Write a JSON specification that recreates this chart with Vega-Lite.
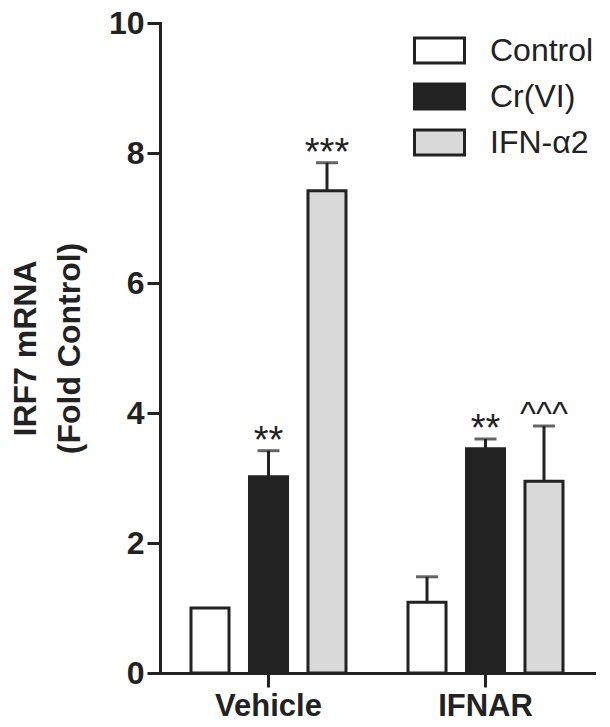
{
  "$schema": "https://vega.github.io/schema/vega-lite/v6.json",
  "width": 434,
  "height": 650,
  "autosize": {"type": "none"},
  "padding": {"left": 160, "top": 23, "right": 16, "bottom": 54},
  "background": "white",
  "config": {
    "view": {"stroke": null},
    "font": "Liberation Sans",
    "axis": {"domainColor": "#222", "domainWidth": 3, "tickColor": "#222", "tickWidth": 3, "labelColor": "#222", "titleColor": "#222", "grid": false, "domainCap": "square"}
  },
  "data": {
    "values": [
      {"group": "Vehicle", "treatment": "Control", "value": 1.0, "upper": null, "sig": ""},
      {"group": "Vehicle", "treatment": "Cr(VI)", "value": 3.02, "upper": 3.42, "sig": "**"},
      {"group": "Vehicle", "treatment": "IFN-α2", "value": 7.42, "upper": 7.85, "sig": "***"},
      {"group": "IFNAR", "treatment": "Control", "value": 1.09, "upper": 1.48, "sig": ""},
      {"group": "IFNAR", "treatment": "Cr(VI)", "value": 3.45, "upper": 3.6, "sig": "**"},
      {"group": "IFNAR", "treatment": "IFN-α2", "value": 2.95, "upper": 3.8, "sig": "^^^"}
    ]
  },
  "encoding": {
    "x": {
      "field": "group", "type": "nominal", "sort": ["Vehicle", "IFNAR"],
      "scale": {"paddingInner": 0, "paddingOuter": 0},
      "axis": {"title": null, "labelAngle": 0, "labelFontSize": 31, "labelFontWeight": "bold", "tickSize": 14, "labelPadding": 4}
    },
    "xOffset": {
      "field": "treatment", "type": "nominal", "sort": ["Control", "Cr(VI)", "IFN-α2"],
      "scale": {"paddingInner": 0.35, "paddingOuter": 0.53}
    }
  },
  "layer": [
    {
      "transform": [{"filter": "datum.upper != null"}],
      "mark": {"type": "rule", "color": "#222", "strokeWidth": 3},
      "encoding": {
        "y": {"field": "value", "type": "quantitative"},
        "y2": {"field": "upper"}
      }
    },
    {
      "transform": [{"filter": "datum.upper != null"}],
      "mark": {"type": "tick", "color": "#222", "size": 22, "thickness": 3, "orient": "horizontal"},
      "encoding": {
        "y": {"field": "upper", "type": "quantitative"}
      }
    },
    {
      "mark": {"type": "bar", "stroke": "#222", "strokeWidth": 3, "strokeJoin": "miter"},
      "encoding": {
        "y": {
          "field": "value", "type": "quantitative",
          "scale": {"domain": [0, 10], "nice": false},
          "axis": {
            "values": [0, 2, 4, 6, 8, 10], "format": "d", "tickSize": 13, "labelFontSize": 32, "labelFontWeight": "bold", "labelPadding": 3,
            "title": ["IRF7 mRNA", "(Fold Control)"], "titleFontSize": 32, "titleFontWeight": "bold", "titleLineHeight": 44,
            "titleX": -150, "titleY": 325, "titleBaseline": "top", "titleAngle": -90, "titleAlign": "center"
          }
        },
        "fill": {
          "field": "treatment", "type": "nominal",
          "scale": {"domain": ["Control", "Cr(VI)", "IFN-α2"], "range": ["#ffffff", "#222222", "#d9d9d9"]},
          "legend": {
            "title": null, "orient": "none", "legendX": 253, "legendY": 1,
            "symbolType": "M-1,-0.5H1V0.5H-1Z", "symbolSize": 2500, "symbolStrokeColor": "#222", "symbolStrokeWidth": 3,
            "labelFontSize": 32, "labelColor": "#222", "labelOffset": 24, "rowPadding": 1, "padding": 0
          }
        }
      }
    },
    {
      "transform": [{"filter": "datum.sig != '^^^'"}],
      "mark": {"type": "text", "fontSize": 38, "color": "#222", "baseline": "alphabetic", "align": "center", "dy": 2},
      "encoding": {
        "y": {"field": "upper", "type": "quantitative"},
        "text": {"field": "sig"}
      }
    },
    {
      "transform": [{"filter": "datum.sig == '^^^'"}],
      "mark": {"type": "text", "fontSize": 34, "color": "#222", "baseline": "alphabetic", "align": "center", "dy": -1},
      "encoding": {
        "y": {"field": "upper", "type": "quantitative"},
        "text": {"field": "sig"}
      }
    }
  ]
}
